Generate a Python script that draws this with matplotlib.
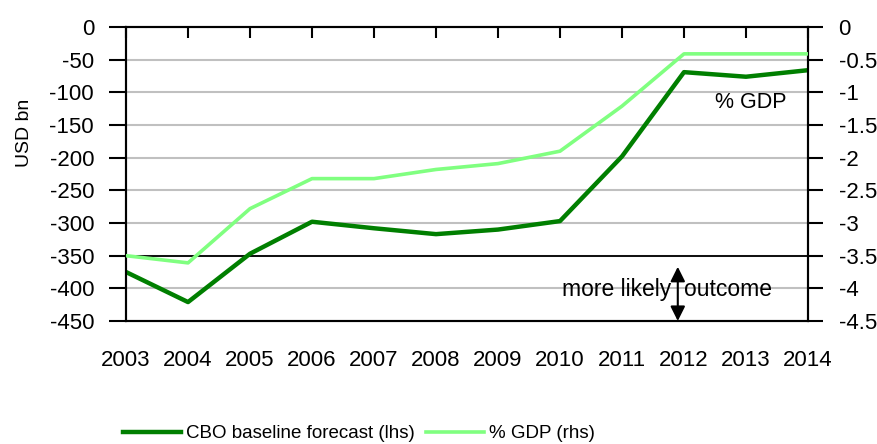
import matplotlib.pyplot as plt

plt.rcParams["font.family"] = ["Liberation Sans", "DejaVu Sans"]
plt.rcParams["axes.unicode_minus"] = False

years = [2003, 2004, 2005, 2006, 2007, 2008, 2009, 2010, 2011, 2012, 2013, 2014]
cbo_usd = [-375, -421, -347, -298, -308, -317, -310, -297, -198, -69, -76, -66]
gdp_pct = [-3.5, -3.61, -2.78, -2.32, -2.32, -2.18, -2.09, -1.90, -1.21, -0.41, -0.41, -0.41]

lhs_ticks = [0, -50, -100, -150, -200, -250, -300, -350, -400, -450]
rhs_ticks = [0, -0.5, -1, -1.5, -2, -2.5, -3, -3.5, -4, -4.5]
rhs_labels = ["0", "-0.5", "-1", "-1.5", "-2", "-2.5", "-3", "-3.5", "-4", "-4.5"]

dark = "#007f00"
light = "#80ff80"

fig = plt.figure(figsize=(8.77, 4.44), dpi=100)
ax = fig.add_axes([0.1437, 0.277, 0.7776, 0.662])
ax2 = ax.twinx()

# gridlines + the black -350 reference line
for v in lhs_ticks[1:-1]:
    ax.axhline(v, color="#c0c0c0", lw=1.5, zorder=1)
ax.axhline(-350, color="black", lw=1.3, zorder=2)

l1, = ax.plot(years, cbo_usd, color=dark, lw=3.2, zorder=4,
              label="CBO baseline forecast (lhs)")
l2, = ax2.plot(years, gdp_pct, color=light, lw=2.6, zorder=3,
               label="% GDP (rhs)")

ax.set_xlim(2003, 2014)
ax.set_ylim(-450, 0)
ax2.set_ylim(-4.5, 0)

ax.set_yticks(lhs_ticks)
ax.set_yticklabels([str(v) for v in lhs_ticks])
ax2.set_yticks(rhs_ticks)
ax2.set_yticklabels(rhs_labels)

ax.set_xticks(years)
ax.set_xticklabels([str(y) for y in years])
ax.tick_params(axis="x", bottom=False, top=True, labelbottom=True,
               labeltop=False, direction="in", length=8, width=1.5,
               pad=21, labelsize=16)
ax.tick_params(axis="y", direction="out", length=12, width=1.5,
               pad=11, labelsize=16)
ax2.tick_params(axis="y", direction="out", length=11, width=1.5,
                pad=11, labelsize=16)

for a in (ax, ax2):
    for s in a.spines.values():
        s.set_linewidth(1.5)

ax.set_ylabel("USD bn", fontsize=14)
ax.yaxis.set_label_coords(-0.137, 0.64)

ax.text(2012.5, -115, "% GDP", fontsize=15.5, ha="left", va="center")

ax.annotate("", xy=(2011.9, -450), xytext=(2011.9, -367),
            arrowprops=dict(arrowstyle="<|-|>", color="black", lw=1.5,
                            mutation_scale=22, shrinkA=0, shrinkB=0),
            zorder=5)
ax.text(2011.72, -402, "more likely  outcome", fontsize=16.5,
        ha="center", va="center", zorder=6)

fig.legend(handles=[l1, l2], loc="lower left", ncol=2, frameon=False,
           fontsize=13.5, handlelength=3.1, columnspacing=0.6,
           handletextpad=0.25, borderaxespad=0, borderpad=0.1,
           bbox_to_anchor=(0.138, 0.0))

fig.savefig("out.png", dpi=100)
